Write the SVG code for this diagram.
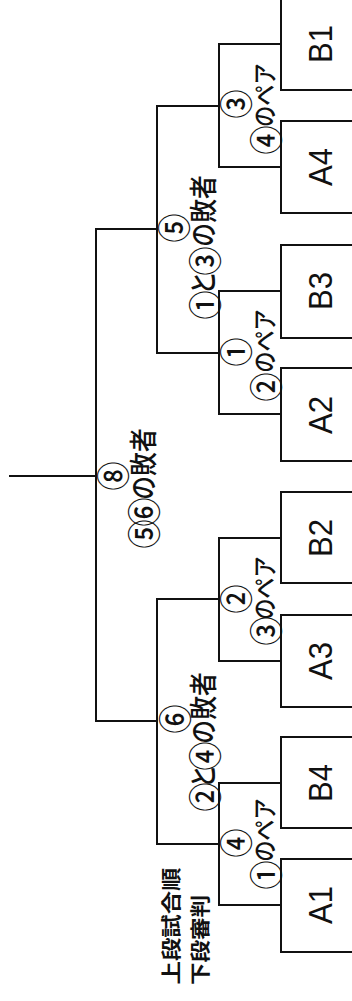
<svg xmlns="http://www.w3.org/2000/svg" width="352" height="1001" viewBox="0 0 352 1001">
<style>
.box{fill:#fff;stroke:#111;stroke-width:2}
.ln{fill:none;stroke:#111;stroke-width:2}
.bl{font-family:"Liberation Sans",Arial,sans-serif;font-size:33px;fill:#111;text-anchor:middle}
.jp{font-family:"Noto Sans CJK JP","Noto Sans CJK SC",sans-serif;font-size:25px;font-weight:500;fill:#111;text-anchor:middle}
.m{font-size:28px}
.c{font-size:34px}
.hd{font-family:"Noto Sans CJK JP","Noto Sans CJK SC",sans-serif;font-size:20px;font-weight:bold;fill:#111;text-anchor:middle}
</style>
<rect width="352" height="1001" fill="#fff"/>
<g id="connectors">
<path class="ln" d="M281,44H219V167H281"/>
<path class="ln" d="M281,291H219V414H281"/>
<path class="ln" d="M281,538H219V661H281"/>
<path class="ln" d="M281,783H219V905H281"/>
<path class="ln" d="M219,106H157V353H219"/>
<path class="ln" d="M219,599H157V844H219"/>
<path class="ln" d="M157,229H96V721H157"/>
<path class="ln" d="M96,476H9"/>
</g>
<g id="B1"><rect class="box" x="281" y="-2" width="90" height="92"/><text class="bl" transform="translate(332,44) rotate(-90)" textLength="38" lengthAdjust="spacingAndGlyphs">B1</text></g>
<g id="A4"><rect class="box" x="281" y="121" width="90" height="92"/><text class="bl" transform="translate(332,167) rotate(-90)" textLength="38" lengthAdjust="spacingAndGlyphs">A4</text></g>
<g id="B3"><rect class="box" x="281" y="245" width="90" height="93"/><text class="bl" transform="translate(332,291) rotate(-90)" textLength="38" lengthAdjust="spacingAndGlyphs">B3</text></g>
<g id="A2"><rect class="box" x="281" y="368" width="90" height="93"/><text class="bl" transform="translate(332,415) rotate(-90)" textLength="38" lengthAdjust="spacingAndGlyphs">A2</text></g>
<g id="B2"><rect class="box" x="281" y="492" width="90" height="91"/><text class="bl" transform="translate(332,538) rotate(-90)" textLength="38" lengthAdjust="spacingAndGlyphs">B2</text></g>
<g id="A3"><rect class="box" x="281" y="615" width="90" height="92"/><text class="bl" transform="translate(332,661) rotate(-90)" textLength="38" lengthAdjust="spacingAndGlyphs">A3</text></g>
<g id="B4"><rect class="box" x="281" y="737" width="90" height="91"/><text class="bl" transform="translate(332,783) rotate(-90)" textLength="38" lengthAdjust="spacingAndGlyphs">B4</text></g>
<g id="A1"><rect class="box" x="281" y="859" width="90" height="93"/><text class="bl" transform="translate(332,905) rotate(-90)" textLength="38" lengthAdjust="spacingAndGlyphs">A1</text></g>
<g id="match3"><text class="jp c" transform="rotate(-90) scale(0.85,1)" x="-122.4" y="248.6">③</text><text class="jp" transform="rotate(-90) scale(0.85,1)"><tspan class="c" x="-164.7" y="278.6">④</tspan><tspan x="-111.8" y="274">のペア</tspan></text></g>
<g id="match1"><text class="jp c" transform="rotate(-90) scale(0.85,1)" x="-414.1" y="248.6">①</text><text class="jp" transform="rotate(-90) scale(0.85,1)"><tspan class="c" x="-455.3" y="278.6">②</tspan><tspan x="-401.2" y="274">のペア</tspan></text></g>
<g id="match2"><text class="jp c" transform="rotate(-90) scale(0.85,1)" x="-704.7" y="248.6">②</text><text class="jp" transform="rotate(-90) scale(0.85,1)"><tspan class="c" x="-742.4" y="278.6">③</tspan><tspan x="-691.8" y="274">のペア</tspan></text></g>
<g id="match4"><text class="jp c" transform="rotate(-90) scale(0.85,1)" x="-991.8" y="248.6">④</text><text class="jp" transform="rotate(-90) scale(0.85,1)"><tspan class="c" x="-1029.4" y="278.6">①</tspan><tspan x="-976.5" y="274">のペア</tspan></text></g>
<g id="match5"><text class="jp c" transform="rotate(-90) scale(0.85,1)" x="-268.2" y="186.6">⑤</text><text class="jp m" transform="rotate(-90) scale(0.85,1)"><tspan class="c" x="-358.8" y="217.6">①</tspan><tspan x="-332.9" y="214">と</tspan><tspan class="c" x="-307.1" y="217.6">③</tspan><tspan x="-248.2" y="214">の敗者</tspan></text></g>
<g id="match6"><text class="jp c" transform="rotate(-90) scale(0.85,1)" x="-845.9" y="188.1">⑥</text><text class="jp m" transform="rotate(-90) scale(0.85,1)"><tspan class="c" x="-937.6" y="217.6">②</tspan><tspan x="-913.5" y="214">と</tspan><tspan class="c" x="-889.4" y="217.6">④</tspan><tspan x="-832.9" y="214">の敗者</tspan></text></g>
<g id="match8"><text class="jp c" transform="rotate(-90) scale(0.85,1)" x="-560" y="125.6">⑧</text><text class="jp m" transform="rotate(-90) scale(0.85,1)"><tspan class="c" x="-628.2" y="156.6">⑤</tspan><tspan class="c" x="-602.4" y="156.6">⑥</tspan><tspan x="-545.9" y="154">の敗者</tspan></text></g>
<g id="legend"><text class="hd" transform="translate(179,926) rotate(-90)" textLength="117" lengthAdjust="spacingAndGlyphs">上段試合順</text><text class="hd" transform="translate(208,940) rotate(-90)" textLength="90" lengthAdjust="spacingAndGlyphs">下段審判</text></g>
</svg>
